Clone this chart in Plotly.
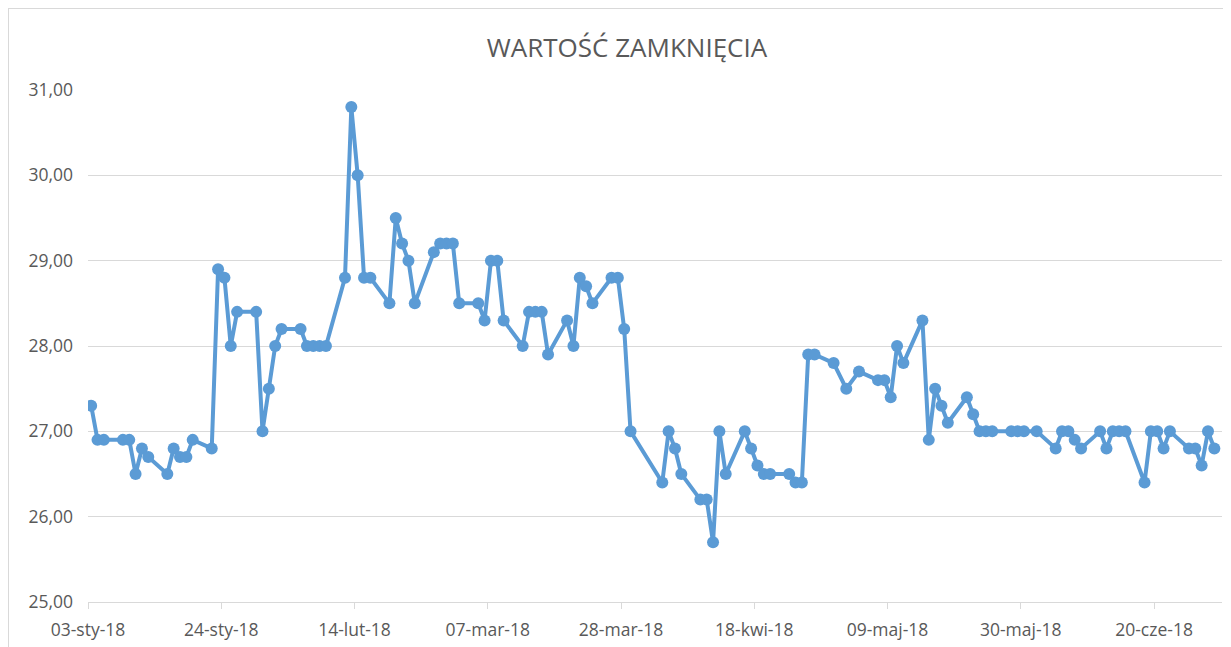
import pandas as pd
import plotly.graph_objects as go

# ---- data ----
dates = [
    "2018-01-03", "2018-01-04", "2018-01-05", "2018-01-08", "2018-01-09", "2018-01-10",
    "2018-01-11", "2018-01-12", "2018-01-15", "2018-01-16", "2018-01-17", "2018-01-18",
    "2018-01-19", "2018-01-22", "2018-01-23", "2018-01-24", "2018-01-25", "2018-01-26",
    "2018-01-29", "2018-01-30", "2018-01-31",
    "2018-02-01", "2018-02-02", "2018-02-05", "2018-02-06", "2018-02-07", "2018-02-08",
    "2018-02-09", "2018-02-12", "2018-02-13", "2018-02-14", "2018-02-15", "2018-02-16",
    "2018-02-19", "2018-02-20", "2018-02-21", "2018-02-22", "2018-02-23", "2018-02-26",
    "2018-02-27", "2018-02-28",
    "2018-03-01", "2018-03-02", "2018-03-05", "2018-03-06", "2018-03-07", "2018-03-08",
    "2018-03-09", "2018-03-12", "2018-03-13", "2018-03-14", "2018-03-15", "2018-03-16",
    "2018-03-19", "2018-03-20", "2018-03-21", "2018-03-22", "2018-03-23", "2018-03-26",
    "2018-03-27", "2018-03-28", "2018-03-29",
    "2018-04-03", "2018-04-04", "2018-04-05", "2018-04-06", "2018-04-09", "2018-04-10",
    "2018-04-11", "2018-04-12", "2018-04-13", "2018-04-16", "2018-04-17", "2018-04-18",
    "2018-04-19", "2018-04-20", "2018-04-23", "2018-04-24", "2018-04-25", "2018-04-26",
    "2018-04-27", "2018-04-30",
    "2018-05-02", "2018-05-04", "2018-05-07", "2018-05-08", "2018-05-09", "2018-05-10",
    "2018-05-11", "2018-05-14", "2018-05-15", "2018-05-16", "2018-05-17", "2018-05-18",
    "2018-05-21", "2018-05-22", "2018-05-23", "2018-05-24", "2018-05-25", "2018-05-28",
    "2018-05-29", "2018-05-30",
    "2018-06-01", "2018-06-04", "2018-06-05", "2018-06-06", "2018-06-07", "2018-06-08",
    "2018-06-11", "2018-06-12", "2018-06-13", "2018-06-14", "2018-06-15", "2018-06-18",
    "2018-06-19", "2018-06-20", "2018-06-21", "2018-06-22", "2018-06-25", "2018-06-26",
    "2018-06-27", "2018-06-28", "2018-06-29",
]
close_values = [
    27.3, 26.9, 26.9, 26.9, 26.9, 26.5,
    26.8, 26.7, 26.5, 26.8, 26.7, 26.7,
    26.9, 26.8, 28.9, 28.8, 28.0, 28.4,
    28.4, 27.0, 27.5,
    28.0, 28.2, 28.2, 28.0, 28.0, 28.0,
    28.0, 28.8, 30.8, 30.0, 28.8, 28.8,
    28.5, 29.5, 29.2, 29.0, 28.5, 29.1,
    29.2, 29.2,
    29.2, 28.5, 28.5, 28.3, 29.0, 29.0,
    28.3, 28.0, 28.4, 28.4, 28.4, 27.9,
    28.3, 28.0, 28.8, 28.7, 28.5, 28.8,
    28.8, 28.2, 27.0,
    26.4, 27.0, 26.8, 26.5, 26.2, 26.2,
    25.7, 27.0, 26.5, 27.0, 26.8, 26.6,
    26.5, 26.5, 26.5, 26.4, 26.4, 27.9,
    27.9, 27.8,
    27.5, 27.7, 27.6, 27.6, 27.4, 28.0,
    27.8, 28.3, 26.9, 27.5, 27.3, 27.1,
    27.4, 27.2, 27.0, 27.0, 27.0, 27.0,
    27.0, 27.0,
    27.0, 26.8, 27.0, 27.0, 26.9, 26.8,
    27.0, 26.8, 27.0, 27.0, 27.0, 26.4,
    27.0, 27.0, 26.8, 27.0, 26.8, 26.8,
    26.6, 27.0, 26.8,
]
tick_dates = ["2018-01-03", "2018-01-24", "2018-02-14", "2018-03-07", "2018-03-28",
              "2018-04-18", "2018-05-09", "2018-05-30", "2018-06-20"]
tick_labels = ["03-sty-18", "24-sty-18", "14-lut-18", "07-mar-18", "28-mar-18",
               "18-kwi-18", "09-maj-18", "30-maj-18", "20-cze-18"]
y_ticks = [25, 26, 27, 28, 29, 30, 31]
y_tick_labels = ["25,00", "26,00", "27,00", "28,00", "29,00", "30,00", "31,00"]
title_text = "WARTOŚĆ ZAMKNIĘCIA"

# Excel date axis places each point in the middle of its day slot
x_vals = pd.to_datetime(dates) + pd.Timedelta(hours=12)

# page body has an 8px margin, so the figure starts at (8, 8) in the window
W, H = 1223, 639
L, R, T, B = 80, 9, 82, 45

GRAY = "#d9d9d9"
TXT = "#595959"
FONT = "Open Sans"

fig = go.Figure()
fig.add_trace(go.Scatter(
    x=x_vals, y=close_values, mode="lines+markers",
    line=dict(color="#5b9bd5", width=4),
    marker=dict(color="#5b9bd5", size=12, symbol="circle"),
    showlegend=False,
))

fig.update_layout(
    width=W, height=H,
    margin=dict(l=L, r=R, t=T, b=B),
    paper_bgcolor="white", plot_bgcolor="white",
    title=dict(text=title_text, x=(627 - 8) / W, xanchor="center", xref="container",
               y=1 - 40 / H, yanchor="middle", yref="container",
               font=dict(family=FONT, size=26, color=TXT)),
    xaxis=dict(
        type="date", automargin=False,
        range=["2018-01-03", "2018-06-30 17:00"],
        tickvals=pd.to_datetime(tick_dates), ticktext=tick_labels,
        showgrid=False, showline=True, linecolor=GRAY, linewidth=1,
        ticks="outside", ticklen=6, tickcolor=GRAY, tickwidth=1,
        ticklabelstandoff=6,
        tickfont=dict(family=FONT, size=17.5, color=TXT),
        zeroline=False,
    ),
    yaxis=dict(
        automargin=False,
        range=[25, 31], tickvals=y_ticks, ticktext=y_tick_labels,
        showgrid=True, gridcolor=GRAY, gridwidth=1,
        zeroline=False, showline=False, ticks="",
        ticklabelstandoff=14,
        tickfont=dict(family=FONT, size=17.5, color=TXT),
    ),
    shapes=[dict(type="rect", xref="paper", yref="paper",
                 x0=-L / (W - L - R), x1=1 + 40 / (W - L - R),
                 y0=-(B + 40) / (H - T - B), y1=1 + T / (H - T - B),
                 line=dict(color=GRAY, width=2), fillcolor="rgba(0,0,0,0)",
                 layer="below")],
)

fig.write_html("out.html")
